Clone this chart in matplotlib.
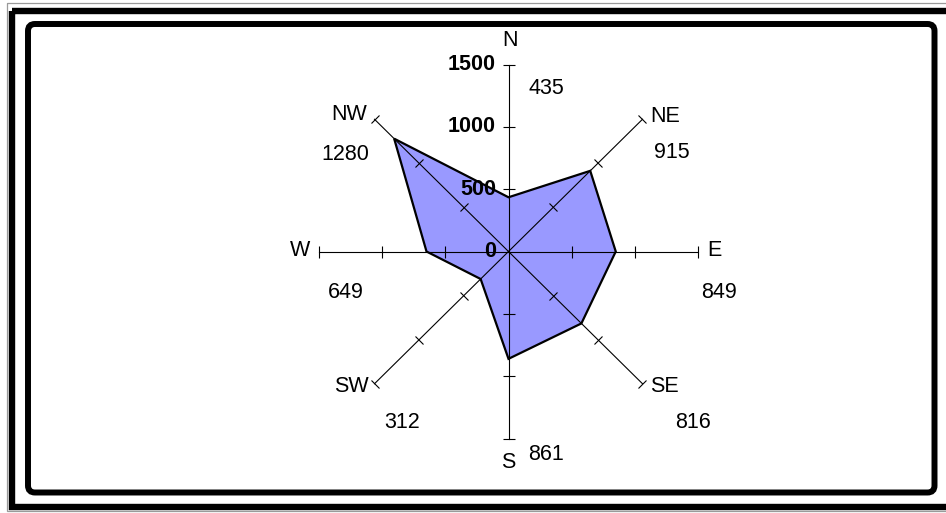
import numpy as np
import matplotlib
matplotlib.use("Agg")
import matplotlib.pyplot as plt
from matplotlib.markers import MarkerStyle
from matplotlib.transforms import Affine2D
from matplotlib.patches import FancyBboxPatch, Rectangle

# ---- data ----
directions = ["N", "NE", "E", "SE", "S", "SW", "W", "NW"]
values = [435, 915, 849, 816, 861, 312, 649, 1280]
radial_ticks = [0, 500, 1000, 1500]
radial_tick_labels = ["0", "500", "1000", "1500"]

W_PX, H_PX, DPI = 946, 513, 100
plt.rcParams['font.family'] = ['Liberation Sans', 'DejaVu Sans']

fig = plt.figure(figsize=(W_PX / DPI, H_PX / DPI), dpi=DPI)
fig.patch.set_facecolor('white')

# overlay axes in pixel units for frames and labels
bg = fig.add_axes([0, 0, 1, 1], zorder=0)
bg.set_xlim(0, W_PX)
bg.set_ylim(H_PX, 0)
bg.axis('off')

# outer frame (cropped at right)
gray = '#9a9a9a'
bg.add_patch(Rectangle((7, 3), 1000, 508, fill=False, ec=gray, lw=0.9))
bg.add_patch(Rectangle((12, 11), 1000, 495.5, fill=False, ec='black', lw=4.6))
# inner chart-area frame with rounded corners
bg.add_patch(FancyBboxPatch((28, 24), 934.5 - 28, 492.5 - 24,
                            boxstyle="round,pad=0,rounding_size=7",
                            fill=False, ec='black', lw=4.3))

# radar (polar) axes
cx, cy, rx, ry = 508.5, 251.5, 189.5, 187.0
ax = fig.add_axes([(cx - rx) / W_PX, (H_PX - cy - ry) / H_PX,
                   2 * rx / W_PX, 2 * ry / H_PX], projection='polar', zorder=2)
ax.set_aspect('auto')
ax.set_theta_zero_location('N')
ax.set_theta_direction(-1)
ax.set_ylim(0, radial_ticks[-1])
ax.set_facecolor('none')
ax.patch.set_visible(False)
ax.grid(False)
ax.set_xticks([])
ax.set_yticks([])
ax.spines['polar'].set_visible(False)

angles_deg = np.arange(len(directions)) * 360.0 / len(directions)
angles = np.deg2rad(angles_deg)

# filled series
th = np.append(angles, angles[0])
vv = np.append(values, values[0])
ax.fill(th, vv, facecolor='#9999FF', edgecolor='black', lw=1.6, zorder=2)

# axis lines and tick marks
for a, adeg in zip(angles, angles_deg):
    ax.plot([a, a], [0, radial_ticks[-1]], color='black', lw=0.8, zorder=3,
            clip_on=False)
    m = MarkerStyle('_', transform=Affine2D().rotate_deg(-adeg))
    ax.plot([a] * (len(radial_ticks) - 1), radial_ticks[1:], ls='none',
            marker=m, ms=9, mew=0.8, color='black', zorder=3, clip_on=False)

# radial tick labels along N axis
for r, lab in zip(radial_ticks, radial_tick_labels):
    ax.annotate(lab, xy=(0, r), xytext=(-12.5, 0), textcoords='offset pixels',
                ha='right', va='center', fontsize=15.5, fontweight='bold',
                zorder=5, annotation_clip=False)

# category labels (pixel centres)
cat_pos = {"N": (510, 40), "NE": (665, 116), "E": (714, 251), "SE": (664, 386),
           "S": (508.5, 463), "SW": (351.5, 386), "W": (300, 250), "NW": (349.5, 115)}
val_pos = [(546, 88), (672, 152), (718.5, 292), (692.5, 422),
           (546, 455), (402.5, 423), (345.5, 293), (345.5, 155)]
for d, v, vp in zip(directions, values, val_pos):
    x, y = cat_pos[d]
    bg.text(x, y, d, ha='center', va='center', fontsize=15.5, zorder=5)
    bg.text(vp[0], vp[1], str(v), ha='center', va='center', fontsize=15.5, zorder=5)

fig.savefig('out.png', dpi=DPI, facecolor='white')
